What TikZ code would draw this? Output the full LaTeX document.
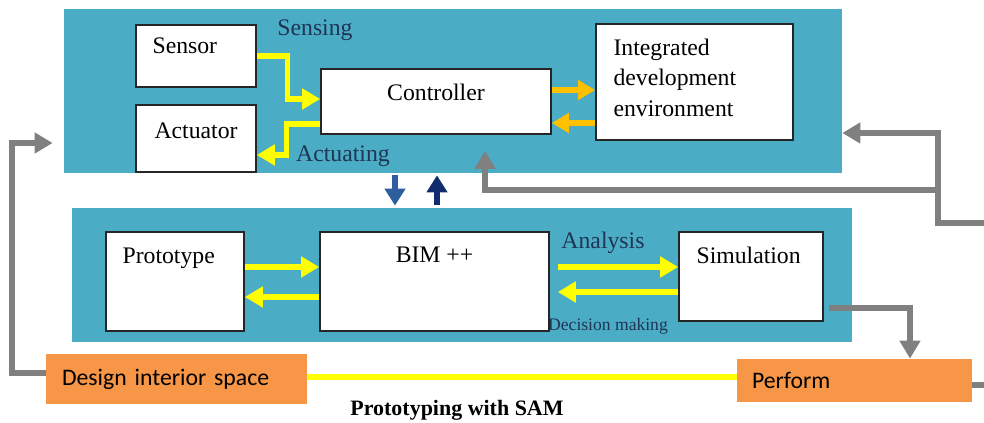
\documentclass[tikz,border=0pt]{standalone}
\usepackage{fontspec}
\setmainfont{Liberation Serif}
\newfontfamily\calibfont{Carlito}
\usetikzlibrary{arrows.meta}
\definecolor{panelblue}{HTML}{4BACC6}
\definecolor{ogbox}{HTML}{F79646}
\definecolor{ylw}{HTML}{FFFF00}
\definecolor{gld}{HTML}{FFC000}
\definecolor{lnkgray}{HTML}{808080}
\definecolor{lblue}{HTML}{2E5E9E}
\definecolor{dnavy}{HTML}{0E2C6E}
\definecolor{lbltxt}{HTML}{1F3553}
\tikzstyle{panel}=[rectangle,fill=panelblue,draw=none,inner sep=0pt]
\tikzstyle{wbox}=[rectangle,fill=white,draw=black!85,line width=0.9pt,inner sep=0pt]
\tikzstyle{tl}=[anchor=north west,inner sep=0pt,align=left,font=\fontsize{13.5}{17.5}\selectfont]
\tikzstyle{tc}=[anchor=north,inner sep=0pt,font=\fontsize{13.5}{15}\selectfont]
\tikzstyle{obox}=[rectangle,fill=ogbox,draw=none,inner ysep=0pt,align=left,font=\calibfont\fontsize{13.5}{16}\selectfont]
\tikzstyle{flow}=[text=lbltxt,inner sep=0pt,font=\fontsize{13.5}{16}\selectfont]
\tikzstyle{ylink}=[-{Triangle[length=0.36cm,width=0.4cm]},ylw,line width=3pt]
\tikzstyle{olink}=[-{Triangle[length=0.34cm,width=0.38cm]},gld,line width=3pt]
\tikzstyle{glink}=[-{Triangle[length=0.36cm,width=0.4cm]},lnkgray,line width=3pt]
\tikzstyle{barrow}=[-{Triangle[length=0.34cm,width=0.4cm]},line width=3.5pt]

\begin{document}
\begin{tikzpicture}
\useasboundingbox (0,0) rectangle (19.68,8.46);
\node[panel,minimum width=15.56cm,minimum height=3.28cm] (ctrlpanel) at (9.06,6.64) {};
\node[panel,minimum width=15.6cm,minimum height=2.68cm] (bimpanel) at (9.24,2.96) {};
\node[wbox,minimum width=2.4cm,minimum height=1.24cm,label={[tl,xshift=0.34cm,yshift=-0.26cm]north west:Sensor}] (sensor) at (3.92,7.34) {};
\node[wbox,minimum width=2.4cm,minimum height=1.34cm,label={[tl,xshift=0.38cm,yshift=-0.36cm]north west:Actuator}] (actuator) at (3.92,5.69) {};
\node[wbox,minimum width=4.6cm,minimum height=1.3cm,label={[tc,yshift=-0.3cm]north:Controller}] (controller) at (8.72,6.43) {};
\node[wbox,minimum width=3.94cm,minimum height=2.32cm,label={[tl,xshift=0.36cm,yshift=-0.3cm]north west:Integrated\\development\\environment}] (ide) at (13.89,6.82) {};
\node[wbox,minimum width=2.76cm,minimum height=1.98cm,label={[tl,xshift=0.34cm,yshift=-0.32cm]north west:Prototype}] (proto) at (3.50,2.83) {};
\node[wbox,minimum width=4.58cm,minimum height=1.98cm,label={[tc,yshift=-0.3cm]north:BIM ++}] (bim) at (8.69,2.83) {};
\node[wbox,minimum width=2.88cm,minimum height=1.78cm,label={[tl,xshift=0.36cm,yshift=-0.3cm]north west:Simulation}] (sim) at (15.02,2.93) {};
\node[obox,inner xsep=0.32cm,text width=4.58cm,minimum height=1.0cm] (design) at (3.53,0.88) {Design interior space};
\node[obox,inner xsep=0.30cm,text width=4.1cm,minimum height=0.86cm] (perform) at (17.09,0.85) {Perform};
\node[flow] (sensing) at (6.30,7.86) {Sensing};
\node[flow] (actuating) at (6.86,5.34) {Actuating};
\node[flow] (analysis) at (12.06,3.60) {Analysis};
\node[flow,font=\fontsize{10}{12}\selectfont] (decision) at (12.16,1.94) {Decision making};
\node[inner sep=0pt,font=\bfseries\fontsize{12.5}{14}\selectfont] (caption) at (9.14,0.26) {Prototyping with SAM};
\coordinate (pout) at (19.68,0.76);
\coordinate (fbin) at (19.68,4.00);
\draw[ylink](sensor.east) -- ++(0.62,0) |- ([yshift=0.05cm]controller.west);
\draw[ylink]([yshift=-0.45cm]controller.west) -- ++(-0.68,0) |- ([yshift=-0.33cm]actuator.east);
\draw[olink]([yshift=0.23cm]controller.east) -- ([yshift=0.23cm]controller.east -| ide.west);
\draw[olink]([yshift=-0.43cm]controller.east -| ide.west) -- ([yshift=-0.43cm]controller.east);
\draw[barrow,lblue,shorten <=0.04cm,shorten >=0.04cm]([xshift=-1.16cm]ctrlpanel.south) -- ([xshift=-1.16cm]ctrlpanel.south |- bimpanel.north);
\draw[barrow,dnavy,shorten <=0.06cm,shorten >=0.04cm]([xshift=-0.32cm]ctrlpanel.south |- bimpanel.north) -- ([xshift=-0.32cm]ctrlpanel.south);
\draw[ylink]([yshift=0.29cm]proto.east) -- ([yshift=0.29cm]proto.east -| bim.west);
\draw[ylink]([yshift=-0.31cm]bim.west) -- ([yshift=-0.31cm]bim.west -| proto.east);
\draw[ylink,shorten <=0.16cm]([yshift=0.29cm]bim.east) -- ([yshift=0.29cm]bim.east -| sim.west);
\draw[ylink,shorten >=0.16cm]([yshift=-0.31cm]sim.west) -- ([yshift=-0.31cm]sim.west -| bim.east);
\draw[glink,shorten <=0.1cm]([yshift=-0.63cm]sim.east) -| ([xshift=1.11cm]perform.north);
\draw[lnkgray,line width=3pt](perform.east |- pout) -- (pout);
\draw[glink](fbin) -| (18.76,5.80) -- ([yshift=-0.84cm]ctrlpanel.east);
\draw[glink](18.76,4.66) -| ([xshift=0.98cm,yshift=-0.32cm]controller.south);
\draw[glink,shorten >=0.22cm]([yshift=0.12cm]design.west) -| (0.24,5.60) -- ([yshift=-1.04cm]ctrlpanel.west);
\draw[ylw,line width=3pt]([yshift=0.04cm]design.east) -- ([yshift=0.04cm]design.east -| perform.west);
\end{tikzpicture}
\end{document}
